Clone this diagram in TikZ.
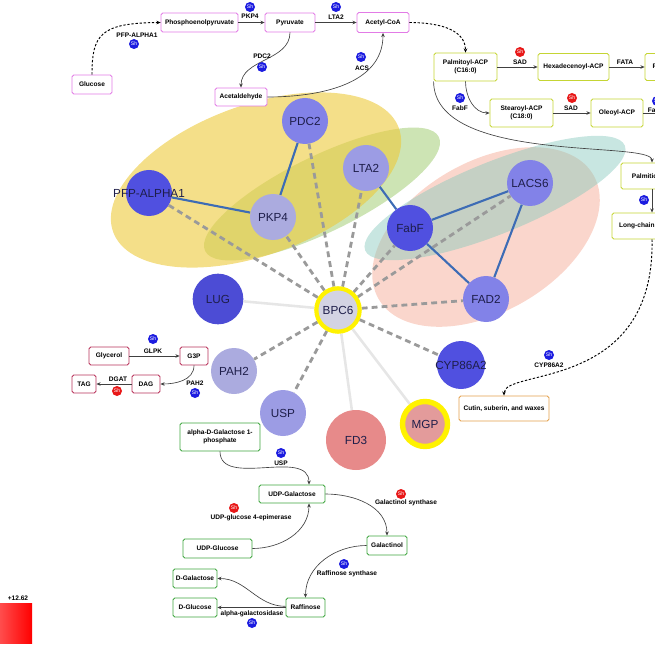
\documentclass[tikz,border=0pt]{standalone}
\usepackage{fontspec}
\setmainfont{Liberation Sans}
\usepackage{tikz}
\usetikzlibrary{arrows.meta}
\usetikzlibrary{backgrounds}

\definecolor{pinkbox}{HTML}{E27BE6}
\definecolor{limebox}{HTML}{C5D534}
\definecolor{rosebox}{HTML}{B8325A}
\definecolor{greenbox}{HTML}{3FA63F}
\definecolor{orangebox}{HTML}{E3A04C}
\definecolor{shblue}{HTML}{1C1CE0}
\definecolor{shred}{HTML}{E81818}
\definecolor{netblue}{HTML}{3D6CB5}
\definecolor{netgray}{HTML}{9A9A9A}
\definecolor{netlight}{HTML}{E6E6E6}
\definecolor{gtext}{HTML}{1E1E4A}
\definecolor{gdeep}{HTML}{5050E0}
\definecolor{gmid}{HTML}{8282E8}
\definecolor{glite}{HTML}{9C9CE4}
\definecolor{gpale}{HTML}{ABABDF}
\definecolor{rmid}{HTML}{E78A8A}
\definecolor{rlite}{HTML}{E39B9B}
\definecolor{hub}{HTML}{D3D3E3}
\definecolor{blobyellow}{HTML}{EDC93A}
\definecolor{blobgreen}{HTML}{9BC96A}
\definecolor{blobsalmon}{HTML}{F4A58E}
\definecolor{blobteal}{HTML}{86C8BC}

\newcommand{\bxfont}{\fontsize{5.6}{6.6}\selectfont\bfseries}

\tikzset{
  box/.style={draw, rounded corners=1.5pt, fill=white, line width=0.7pt, font=\bxfont, align=center, inner sep=1pt},
  sz/.style 2 args={minimum width=#1cm, minimum height=#2cm},
  enz/.style={font=\bxfont, inner sep=0.5pt},
  sh/.style={circle, fill=shblue, text=white, inner sep=0pt, minimum size=0.3cm, font=\fontsize{4.4}{5}\selectfont},
  shr/.style={sh, fill=shred},
  gene/.style={circle, inner sep=0pt, minimum size=1.38cm, text=gtext, font=\fontsize{10}{12}\selectfont},
  rxn/.style={-{Stealth[length=3.5pt,width=3pt]}, line width=0.55pt, draw=black!75},
  flux/.style={rxn, dash pattern=on 2pt off 1.5pt, line width=0.8pt, draw=black},
  coexp/.style={line width=1.8pt, netblue},
  pred/.style={line width=2.4pt, netgray, dash pattern=on 5pt off 3.5pt},
  weak/.style={line width=2.2pt, netlight},
}

\begin{document}
\begin{tikzpicture}[x=0.03cm, y=-0.03cm]
  \useasboundingbox (0, 0) rectangle (655, 655);
  \clip (0, 0) rectangle (655, 655);

  % network
  \node[gene, fill=gmid] at (305, 121) (pdc2) {PDC2};
  \node[gene, fill=glite] at (366, 168) (lta2) {LTA2};
  \node[gene, fill=gpale] at (273, 217) (pkp4) {PKP4};
  \node[gene, fill=gdeep] at (149, 193) (pfp) {\makebox[0pt]{PFP-ALPHA1}};
  \node[gene, fill=gdeep] at (410, 228) (fabf) {FabF};
  \node[gene, fill=gmid] at (530, 183) (lacs6) {LACS6};
  \node[gene, fill=gmid] at (486, 299) (fad2) {FAD2};
  \node[gene, fill=gdeep!95!black, minimum size=1.52cm] at (218, 299) (lug) {LUG};
  \node[gene, fill=gpale] at (234, 371) (pah2) {PAH2};
  \node[gene, fill=glite] at (283, 413) (usp) {USP};
  \node[gene, fill=rmid, minimum size=1.8cm] at (356, 440) (fd3) {FD3};
  \node[gene, fill=gdeep, minimum size=1.44cm] at (461, 365) (cyp) {\makebox[0pt]{CYP86A2}};
  \node[gene, fill=rlite, draw=yellow, line width=4.6pt, minimum size=1.35cm] at (425, 424) (mgp) {MGP};
  \node[gene, fill=hub, draw=yellow, line width=3.6pt, minimum size=1.3cm] at (338, 310) (bpc6) {BPC6};

  \begin{scope}[on background layer]
    \fill[blobgreen, opacity=0.5, rotate around={26:(322,194)}] (322, 194) ellipse [x radius=130, y radius=38];
    \fill[blobyellow, opacity=0.6, rotate around={20:(256,180)}] (256, 180) ellipse [x radius=152, y radius=75];
    \fill[blobsalmon, opacity=0.45, rotate around={30:(486,237)}] (486, 237) ellipse [x radius=124, y radius=75];
    \fill[blobteal, opacity=0.45, rotate around={22:(495,198)}] (495, 198) ellipse [x radius=140, y radius=36];

    \foreach \g in {pfp, pkp4, pdc2, lta2, fabf, lacs6, fad2, cyp, pah2, usp}
      \draw[pred] (bpc6) -- (\g);
    \foreach \g in {lug, fd3, mgp}
      \draw[weak] (bpc6) -- (\g);

    \draw[coexp] (pdc2) -- (pkp4);
    \draw[coexp] (pfp) -- (pkp4);
    \draw[coexp] (lta2) -- (fabf);
    \draw[coexp] (fabf) -- (lacs6);
    \draw[coexp] (fabf) -- (fad2);
    \draw[coexp] (lacs6) -- (fad2);
  \end{scope}

  % glycolysis
  \node[box, draw=pinkbox, sz={1.2}{0.57}] at (92, 84.5) (glucose) {Glucose};
  \node[box, draw=pinkbox, sz={2.31}{0.57}] at (199.5, 22.5) (pep) {Phosphoenolpyruvate};
  \node[box, draw=pinkbox, sz={1.5}{0.57}] at (290, 22.5) (pyruvate) {Pyruvate};
  \node[box, draw=pinkbox, sz={1.56}{0.6}] at (383, 22.5) (acetylcoa) {Acetyl-CoA};
  \node[box, draw=pinkbox, sz={1.56}{0.54}] at (241, 97) (acetaldehyde) {Acetaldehyde};

  \draw[flux] (glucose.north) .. controls (92, 35) and (100, 23) .. (pep.west);
  \draw[rxn] (pep) -- (pyruvate);
  \draw[rxn] (pyruvate) -- (acetylcoa);
  \draw[rxn] (pyruvate.south) to[out=-90, in=90] (acetaldehyde.north);
  \draw[rxn] (acetaldehyde.east) to[out=0, in=-90] (acetylcoa.south);

  \node[sh] at (250, 7) (shpkp4) {Sh};
  \node[enz] at (250, 16) (epkp4) {PKP4};
  \node[sh] at (336, 7) (shlta2) {Sh};
  \node[enz] at (336, 17) (elta2) {LTA2};
  \node[enz] at (137, 35) (epfp) {PFP-ALPHA1};
  \node[sh] at (134, 44) (shpfp) {Sh};
  \node[enz] at (262, 56) (epdc2) {PDC2};
  \node[sh] at (262, 67) (shpdc2) {Sh};
  \node[sh] at (361, 57) (shacs) {Sh};
  \node[enz] at (362, 68) (eacs) {ACS};

  % fatty acids
  \node[box, draw=limebox, sz={1.89}{0.84}] at (465.5, 67) (palmitoyl) {Palmitoyl-ACP\\(C16:0)};
  \node[box, draw=limebox, sz={2.13}{0.81}] at (573.5, 67) (hexadecenoyl) {Hexadecenoyl-ACP};
  \node[box, draw=limebox, sz={2.1}{0.81}] at (680, 67) (palmitoleoyl) {Palmitoleoyl-ACP};
  \node[box, draw=limebox, sz={1.89}{0.84}] at (521.5, 113) (stearoyl) {Stearoyl-ACP\\(C18:0)};
  \node[box, draw=limebox, sz={1.56}{0.84}] at (617, 113) (oleoyl) {Oleoyl-ACP};
  \node[box, draw=limebox, sz={1.86}{0.78}] at (652, 176) (palmitic) {Palmitic acid};
  \node[box, draw=limebox, sz={2.4}{0.78}] at (652, 226) (longchain) {Long-chain acyl-CoA};
  \node[box, draw=orangebox, sz={2.7}{0.75}] at (504, 408.5) (cutin) {Cutin, suberin, and waxes};
  \coordinate (oleoylout) at (680, 113);

  \draw[flux] (acetylcoa.east) to[out=0, in=90] (palmitoyl.north);
  \draw[rxn] (palmitoyl) -- (hexadecenoyl);
  \draw[rxn] (hexadecenoyl) -- (palmitoleoyl);
  \draw[rxn] (stearoyl) -- (oleoyl);
  \draw[rxn] (oleoyl) -- (oleoylout);
  \draw[rxn] (palmitoyl.south) to[out=-90, in=180] (stearoyl.west);
  \draw[rxn] (palmitoyl.south west) .. controls (434, 165) and (652, 140) .. (palmitic.north);
  \draw[rxn] (palmitic) -- (longchain);
  \draw[flux] (longchain.south) .. controls (655, 392) and (504, 368) .. (cutin.north);

  \node[shr] at (520, 52) (shsad1) {Sh};
  \node[enz] at (520, 62) (esad1) {SAD};
  \node[enz] at (625, 62) (efata) {FATA};
  \node[sh] at (460, 98) (shfabf) {Sh};
  \node[enz] at (460, 108) (efabf) {FabF};
  \node[shr] at (572, 98) (shsad2) {Sh};
  \node[enz] at (571, 108) (esad2) {SAD};
  \node[sh] at (657, 101) (shfad) {Sh};
  \node[enz, anchor=west] at (647, 110) (efad) {FabF};
  \node[sh] at (644, 200) (shlc) {Sh};
  \node[sh] at (549, 355) (shcyp) {Sh};
  \node[enz] at (549, 365) (ecyp) {CYP86A2};

  % glycerolipids
  \node[box, draw=rosebox, sz={1.2}{0.54}] at (109, 356) (glycerol) {Glycerol};
  \node[box, draw=rosebox, sz={0.84}{0.54}] at (194, 356) (g3p) {G3P};
  \node[box, draw=rosebox, sz={0.84}{0.54}] at (146, 384) (dag) {DAG};
  \node[box, draw=rosebox, sz={0.72}{0.54}] at (84, 384) (tag) {TAG};

  \draw[rxn] (glycerol) -- (g3p);
  \draw[rxn] (g3p.south) to[out=-90, in=0] (dag.east);
  \draw[rxn] (dag) -- (tag);

  \node[sh] at (153, 339) (shglpk) {Sh};
  \node[enz] at (153, 351) (eglpk) {GLPK};
  \node[enz] at (118, 379) (edgat) {DGAT};
  \node[shr] at (117, 391) (shdgat) {Sh};
  \node[enz] at (195, 383) (epah2) {PAH2};
  \node[sh] at (195, 393) (shpah2) {Sh};

  % raffinose family
  \node[box, draw=greenbox, sz={2.4}{0.84}] at (220, 437) (agal) {alpha-D-Galactose 1-\\phosphate};
  \node[box, draw=greenbox, sz={1.98}{0.54}] at (292, 494) (udpgal) {UDP-Galactose};
  \node[box, draw=greenbox, sz={2.07}{0.57}] at (217.5, 548.5) (udpglc) {UDP-Glucose};
  \node[box, draw=greenbox, sz={1.2}{0.57}] at (387, 545.5) (galactinol) {Galactinol};
  \node[box, draw=greenbox, sz={1.17}{0.57}] at (305.5, 607.5) (raffinose) {Raffinose};
  \node[box, draw=greenbox, sz={1.32}{0.57}] at (195, 578.5) (dgal) {D-Galactose};
  \node[box, draw=greenbox, sz={1.32}{0.57}] at (195, 607.5) (dglc) {D-Glucose};

  \draw[rxn] (agal.south) to[out=-90, in=90] ([xshift=0.51cm]udpgal.north);
  \draw[rxn] (udpglc.east) to[out=0, in=-90] ([xshift=0.51cm]udpgal.south);
  \draw[rxn] (udpgal.east) to[out=0, in=90] (galactinol.north);
  \draw[rxn] (galactinol.west) to[out=180, in=90] (raffinose.north);
  \draw[rxn] (raffinose.west) -- (dglc.east);
  \draw[rxn] ([yshift=1pt]raffinose.west) to[out=180, in=0] (dgal.east);

  \node[sh] at (281, 453) (shusp) {Sh};
  \node[enz] at (281, 463) (eusp) {USP};
  \node[shr] at (234, 508) (shepi) {Sh};
  \node[enz] at (251, 518) (eepi) {UDP-glucose 4-epimerase};
  \node[shr] at (401, 494) (shgols) {Sh};
  \node[enz] at (406, 503) (egols) {Galactinol synthase};
  \node[sh] at (344, 564) (shrs) {Sh};
  \node[enz] at (347, 574) (ers) {Raffinose synthase};
  \node[enz] at (252, 613.5) (eagal) {alpha-galactosidase};
  \node[sh] at (252, 623) (shagal) {Sh};

  % colour scale
  \shade[left color=red!70!white, right color=red] (0, 603) rectangle (32, 643);
  \node[enz] at (18, 598) (scalemax) {+12.62};
\end{tikzpicture}
\end{document}
